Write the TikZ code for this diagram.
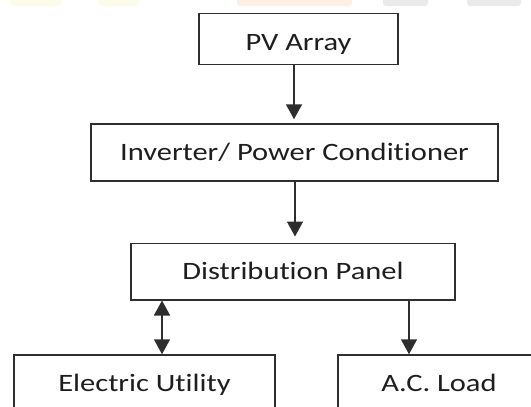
\documentclass[tikz,border=0pt]{standalone}
\usepackage{fontspec}
\setmainfont{Carlito}[FakeStretch=1.22, Ligatures={NoCommon}]
\usetikzlibrary{arrows.meta}
\definecolor{wmyellow}{HTML}{FCFDE8}
\definecolor{wmpeach}{HTML}{FFF0E3}
\definecolor{wmgray}{HTML}{EAEAEA}
\definecolor{linecol}{HTML}{2E2E2E}
\definecolor{textcol}{HTML}{1E1E1E}
\tikzset{
  blockbox/.style={draw=linecol, line width=1.5pt, rectangle, inner sep=0pt,
    font=\fontsize{25}{30}\selectfont, text=textcol,
    text height=16.1pt, text depth=0pt, anchor=center},
  arr/.style={draw=linecol, line width=1.5pt, -{Triangle[width=16pt,length=15pt]}},
  darr/.style={draw=linecol, line width=1.5pt, {Triangle[width=16pt,length=15pt]}-{Triangle[width=16pt,length=15pt]}}
}
\begin{document}
\begin{tikzpicture}[x=1pt,y=-1pt]
\useasboundingbox (0,0) rectangle (531,407);
\clip (0,0) rectangle (531,407);
\fill[white] (0,0) rectangle (531,407);
% faint watermark at the top edge
\fill[wmyellow, rounded corners=3pt] (10,-6) rectangle (61,6);
\fill[wmyellow, rounded corners=3pt] (98,-6) rectangle (139,6);
\fill[wmpeach, rounded corners=3pt] (237,-6) rectangle (352,6);
\fill[wmgray, rounded corners=3pt] (383,-6) rectangle (428,6);
\fill[wmgray, rounded corners=3pt] (467,-6) rectangle (521,6);

\node[blockbox, minimum width=199pt, minimum height=51pt, text height=22.1pt] (pv) at (298.5,39) {PV Array};
\node[blockbox, minimum width=407pt, minimum height=57pt] (inv) at (294.5,152.5) {Inverter/ Power Conditioner};
\node[blockbox, minimum width=324pt, minimum height=56.5pt] (dist) at (293,271.5) {Distribution Panel};
\node[blockbox, minimum width=261pt, minimum height=57pt] (util) at (144.5,383.5) {Electric Utility};
\node[blockbox, minimum width=202pt, minimum height=57pt] (load) at (439,383.5) {A.C. Load};

\coordinate (x1) at (294,0);
\coordinate (x2) at (295,0);
\coordinate (x3) at (162,0);
\coordinate (x4) at (409,0);

\draw[arr, shorten >=4pt] (x1 |- pv.south) -- (x1 |- inv.north);
\draw[arr, shorten >=6pt] (x2 |- inv.south) -- (x2 |- dist.north);
\draw[darr] (x3 |- dist.south) -- (x3 |- util.north);
\draw[arr] (x4 |- dist.south) -- (x4 |- load.north);
\end{tikzpicture}
\end{document}
